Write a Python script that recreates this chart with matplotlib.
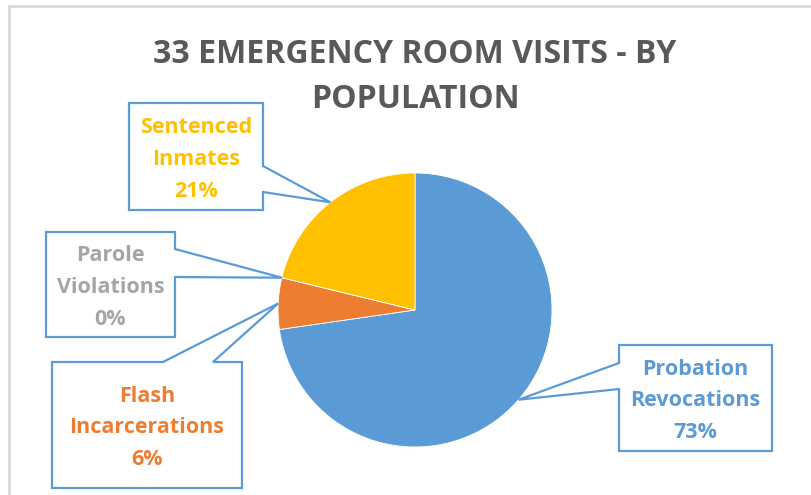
import numpy as np
import matplotlib
matplotlib.use("Agg")
import matplotlib.pyplot as plt
from matplotlib.patches import Polygon

# ---- data ----
categories = ["Probation\nRevocations", "Flash\nIncarcerations", "Parole\nViolations", "Sentenced\nInmates"]
visits = [24, 2, 0, 7]
colors = ["#5B9BD5", "#ED7D31", "#A5A5A5", "#FFC000"]
title = "33 EMERGENCY ROOM VISITS - BY\nPOPULATION"

W, H = 812, 495
fig = plt.figure(figsize=(W / 100, H / 100), dpi=100)
ax = fig.add_axes([0, 0, 1, 1])

def Y(y):  # pixel-from-top -> data y
    return H - y

cx, cy, R = 415, 310, 137
wedges, _ = ax.pie(visits, colors=colors, startangle=90, counterclock=False,
                   center=(cx, Y(cy)), radius=R,
                   wedgeprops=dict(edgecolor="white", linewidth=0.6))
ax.set_xlim(0, W)
ax.set_ylim(0, H)
ax.set_aspect("equal")
ax.axis("off")

# chart border (left / top)
ax.plot([9, 9, W + 5], [Y(H + 5), Y(6), Y(6)], color="#D9D9D9", lw=2, zorder=1)

FONT = ["Open Sans", "DejaVu Sans"]
ax.text(cx, Y(77), title, ha="center", va="center", fontsize=23, fontweight="bold",
        color="#595959", family=FONT, linespacing=1.48)

# callout boxes: (x0, y0, x1, y1), side of pointer, pointer base positions
boxes = [
    ((619, 345, 772, 451), "left", (363, 389)),
    ((52, 362, 242, 488), "top", (163, 213)),
    ((46, 232, 175, 337), "right", (249, 277)),
    ((129, 103, 263, 210), "right", (166, 192)),
]

total = sum(visits)
for w, lab, val, col, (box, side, (a, b)) in zip(wedges, categories, visits, colors, boxes):
    mid = np.deg2rad((w.theta1 + w.theta2) / 2)
    tx = cx + R * np.cos(mid)
    ty = Y(cy) + R * np.sin(mid)
    x0, y0, x1, y1 = box
    pts = [(x0, Y(y0))]
    if side == "top":
        pts += [(a, Y(y0)), (tx, ty), (b, Y(y0))]
    pts += [(x1, Y(y0))]
    if side == "right":
        pts += [(x1, Y(a)), (tx, ty), (x1, Y(b))]
    pts += [(x1, Y(y1)), (x0, Y(y1))]
    if side == "left":
        pts += [(x0, Y(b)), (tx, ty), (x0, Y(a))]
    ax.add_patch(Polygon(pts, closed=True, facecolor="white", edgecolor="#5B9BD5",
                         lw=1.6, zorder=5))
    pct = f"{round(100 * val / total):d}%"
    ax.text((x0 + x1) / 2, Y((y0 + y1) / 2) - 3, f"{lab}\n{pct}", ha="center", va="center",
            fontsize=15.5, fontweight="bold", color=col, family=FONT, linespacing=1.68,
            zorder=6)

fig.savefig("out.png", dpi=100)
